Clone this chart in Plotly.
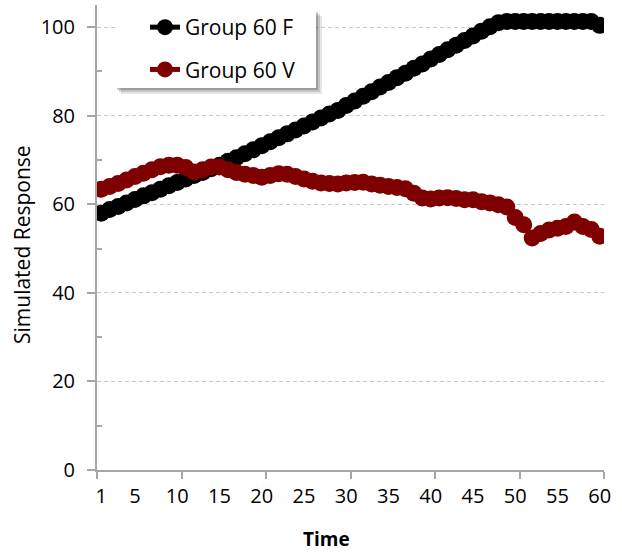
import plotly.graph_objects as go

time = list(range(1, 61))
group_f = [58.0, 58.8, 59.5, 60.3, 61.1, 61.9, 62.6, 63.4, 64.2, 64.9,
           65.7, 66.5, 67.2, 68.0, 68.8, 69.7, 70.5, 71.4, 72.3, 73.2,
           74.1, 75.0, 75.9, 76.8, 77.7, 78.6, 79.5, 80.4, 81.2, 82.3,
           83.3, 84.4, 85.4, 86.5, 87.5, 88.6, 89.6, 90.7, 91.7, 92.8,
           93.8, 94.9, 95.9, 97.0, 98.0, 99.1, 100.1, 101.0, 101.3, 101.3,
           101.3, 101.3, 101.3, 101.3, 101.3, 101.3, 101.3, 101.3, 101.3, 100.4]
group_v = [63.4, 64.0, 64.7, 65.5, 66.3, 67.0, 67.8, 68.5, 68.8, 68.8,
           68.3, 67.3, 67.8, 68.4, 68.4, 67.8, 67.2, 66.8, 66.5, 66.1,
           66.5, 66.9, 66.8, 66.3, 65.7, 65.2, 64.8, 64.7, 64.6, 64.8,
           64.9, 65.0, 64.6, 64.3, 64.0, 63.8, 63.5, 62.5, 61.4, 61.2,
           61.4, 61.5, 61.3, 61.0, 61.0, 60.6, 60.3, 59.9, 59.4, 57.0,
           55.4, 52.4, 53.4, 54.2, 54.6, 55.0, 56.0, 55.0, 54.3, 52.8]
x_tick_vals = [1, 5, 10, 15, 20, 25, 30, 35, 40, 45, 50, 55, 60]
x_tick_text = [str(v) for v in x_tick_vals]
y_tick_vals = [0, 20, 40, 60, 80, 100]

FONT = "Open Sans"
AXIS_GRAY = "#a6a6a6"

fig = go.Figure()
fig.add_trace(go.Scatter(
    x=time, y=group_f, name="Group 60 F", mode="lines+markers",
    line=dict(color="#000000", width=5),
    marker=dict(color="#000000", size=17),
    legendgroup="f",
))
fig.add_trace(go.Scatter(
    x=time, y=group_v, name="Group 60 V", mode="lines+markers",
    line=dict(color="#7f0000", width=5),
    marker=dict(color="#7f0000", size=17),
    legendgroup="v",
))

# plot area in pixels: left 97, right 604, top 5, bottom 470
W, H = 622, 553
L, R, T, B = 97, 18, 5, 83
pw, ph = W - L - R, H - T - B

def px_x(p):
    return (p - L) / pw

def px_y(p):
    return (H - B - p) / ph

shapes = []
# soft shadow for legend box
for off, op in [(6, 0.10), (4, 0.15), (2, 0.2)]:
    shapes.append(dict(type="rect", xref="paper", yref="paper", layer="above",
                       x0=px_x(115 + off), x1=px_x(316 + off),
                       y0=px_y(88 + off), y1=px_y(10 + off),
                       fillcolor=f"rgba(0,0,0,{op})", line=dict(width=0)))
shapes.append(dict(type="rect", xref="paper", yref="paper", layer="above",
                   x0=px_x(115), x1=px_x(316), y0=px_y(88), y1=px_y(10),
                   fillcolor="white", line=dict(width=0)))

fig.update_layout(
    width=W, height=H,
    margin=dict(l=L, r=R, t=T, b=B),
    paper_bgcolor="white", plot_bgcolor="white",
    font=dict(family=FONT, size=20, color="#000000"),
    shapes=shapes,
    legend=dict(x=px_x(145), y=px_y(7), xanchor="left", yanchor="top",
                bgcolor="rgba(0,0,0,0)", font=dict(size=21),
                traceorder="grouped", tracegroupgap=12),
    annotations=[
        dict(text="Time", x=px_x(326), y=px_y(539), xref="paper", yref="paper",
             showarrow=False, font=dict(size=19, family=FONT, color="#000000", weight="bold"),
             xanchor="center", yanchor="middle", borderpad=0),
        dict(text="Simulated Response", x=px_x(22), y=px_y(245), xref="paper", yref="paper",
             showarrow=False, textangle=-90, font=dict(size=21, family=FONT, color="#000000"),
             xanchor="center", yanchor="middle"),
    ],
)
fig.update_xaxes(
    range=[0.5, 60.5], tickmode="array", tickvals=x_tick_vals, ticktext=x_tick_text,
    ticks="", showgrid=False, zeroline=False,
    showline=True, linecolor=AXIS_GRAY, linewidth=2,
    ticklabelstandoff=7,
    minor=dict(tickmode="array", tickvals=[0.5, 10.5, 20.5, 30.5, 40.5, 50.5, 60.5],
               ticks="outside", ticklen=7, tickcolor=AXIS_GRAY, tickwidth=2, showgrid=False),
)
fig.update_yaxes(
    range=[0, 105], tickmode="array", tickvals=y_tick_vals,
    ticks="outside", ticklen=8, tickcolor=AXIS_GRAY, tickwidth=2,
    showgrid=True, gridcolor="#c8c8c8", griddash="4px,3px", gridwidth=1,
    zeroline=False, showline=True, linecolor=AXIS_GRAY, linewidth=2,
    ticklabelstandoff=8,
    minor=dict(tickmode="array", tickvals=[10, 30, 50, 70, 90],
               ticks="inside", ticklen=5, tickcolor=AXIS_GRAY, tickwidth=2, showgrid=False),
)

fig.write_html("out.html", config={"displayModeBar": False},
               post_script="document.body.style.margin='0';")
